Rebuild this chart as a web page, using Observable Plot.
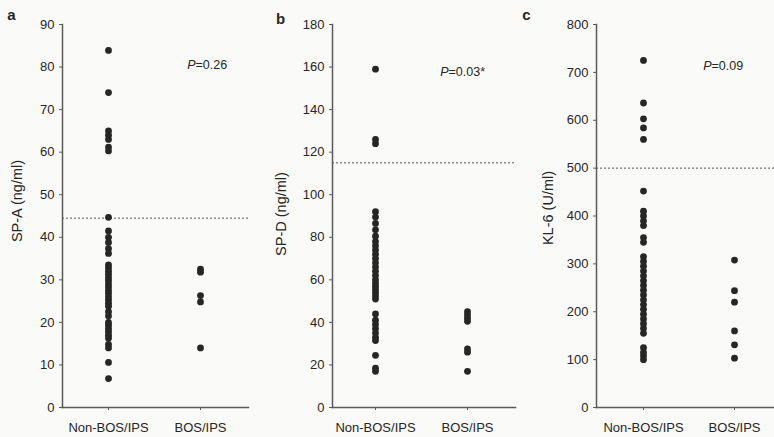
<!DOCTYPE html>
<html>
<head>
<meta charset="utf-8">
<script src="https://cdn.jsdelivr.net/npm/d3@7"></script>
<script src="https://cdn.jsdelivr.net/npm/@observablehq/plot@0.6"></script>
<style>
  html, body { margin: 0; padding: 0; background: #fafaf8; }
  #wrap { position: relative; width: 774px; height: 437px; overflow: hidden; }
  #wrap > svg { position: absolute; top: 0; }
</style>
</head>
<body>
<div id="wrap"></div>
<script>
// ---- data ----
const groups = ["Non-BOS/IPS", "BOS/IPS"];

const spaNon = [83.9, 74, 65, 64, 63, 61.2, 60.3, 44.7, 41.5, 40, 38.8, 37.3, 36.2,
  33.5, 32.8, 32, 31.3, 30.5, 29.8, 29, 28.3, 27.5, 26.8, 26, 25.3, 24.5, 23.8,
  22.5, 21.5, 20, 19.3, 18.5, 17.8, 17, 16.3, 14.8, 14, 10.6, 6.8];
const spaBos = [32.5, 31.8, 26.3, 24.8, 14];

const spdNon = [159, 126, 124, 92, 89.5, 86.5, 83.5, 80.5, 78, 76, 74, 72, 70, 68,
  66, 64, 62, 60, 58.5, 57, 55.5, 54, 52.5, 51, 44, 41, 39, 37, 35, 33, 31.5,
  24.5, 18.5, 17];
const spdBos = [45, 43.5, 42, 40.5, 27.5, 26, 17];

const kl6Non = [725, 636, 603, 584, 560, 452, 410, 400, 390, 380, 355, 345, 315,
  305, 295, 285, 275, 265, 255, 245, 235, 225, 215, 205, 195, 185, 175, 165, 155,
  125, 115, 108, 100];
const kl6Bos = [308, 244, 220, 160, 131, 103];

const cutoffs = [44.5, 115, 500];
const yLabels = ["SP-A (ng/ml)", "SP-D (ng/ml)", "KL-6 (U/ml)"];
const panelLetters = ["a", "b", "c"];
const pValues = ["0.26", "0.03*", "0.09"];
const yMax = [90, 180, 800];
const yTicks = [
  [0, 10, 20, 30, 40, 50, 60, 70, 80, 90],
  [0, 20, 40, 60, 80, 100, 120, 140, 160, 180],
  [0, 100, 200, 300, 400, 500, 600, 700, 800]
];
const seriesNon = [spaNon, spdNon, kl6Non];
const seriesBos = [spaBos, spdBos, kl6Bos];

// ---- layout (styling only) ----
const layout = [
  {left: 0,   ml: 62, mr: 10, xr: [108, 200], letter: [-51, -9], title: [-45, -15], p: [133, 40]},
  {left: 258, ml: 74, mr: 1,  xr: [117, 209], letter: [-52, -5], title: [-51, -2],  p: [116, 47]},
  {left: 516, ml: 80, mr: 0,  xr: [127, 218], letter: [-70, -9], title: [-48, -8],  p: [115, 41]}
];

const font = "'Liberation Sans', Arial, Helvetica, sans-serif";
const ink = "#262626";
const axisInk = "#5a5a5a";
const wrap = document.getElementById("wrap");

for (let i = 0; i < 3; i++) {
  const L = layout[i];
  const data = [
    ...seriesNon[i].map(v => ({g: groups[0], v})),
    ...seriesBos[i].map(v => ({g: groups[1], v}))
  ];
  const svg = Plot.plot({
    width: 258,
    height: 437,
    marginLeft: L.ml,
    marginRight: L.mr,
    marginTop: 24,
    marginBottom: 30,
    style: {fontFamily: font, fontSize: "13px", color: ink, background: "transparent", overflow: "visible"},
    x: {type: "point", domain: groups, range: L.xr, padding: 0, label: null},
    y: {domain: [0, yMax[i]], label: null},
    marks: [
      Plot.ruleY([cutoffs[i]], {stroke: "#555", strokeWidth: 1, strokeDasharray: "2,2"}),
      Plot.axisY(yTicks[i], {tickSize: 3, tickPadding: 5, stroke: axisInk, fill: ink, label: null}),
      Plot.axisX({tickSize: 3, tickPadding: 12, stroke: axisInk, fill: ink, label: null}),
      Plot.frame({anchor: "left", stroke: axisInk, strokeWidth: 1.5}),
      Plot.frame({anchor: "bottom", stroke: axisInk, strokeWidth: 1.5}),
      Plot.dot(data, {x: "g", y: "v", r: 3.4, fill: ink, stroke: "none"}),
      Plot.text([panelLetters[i]], {text: d => d, frameAnchor: "top-left", dx: L.letter[0], dy: L.letter[1],
        textAnchor: "middle", lineAnchor: "middle", fontWeight: "bold", fontSize: 15, fill: ink}),
      Plot.text([yLabels[i]], {text: d => d, frameAnchor: "left", rotate: -90, dx: L.title[0], dy: L.title[1],
        textAnchor: "middle", lineAnchor: "middle", fontSize: 14.5, fill: ink}),
      Plot.text(["P"], {text: d => d, frameAnchor: "top-left", dx: L.p[0], dy: L.p[1],
        textAnchor: "end", lineAnchor: "middle", fontStyle: "italic", fontSize: 12.5, fill: ink}),
      Plot.text([pValues[i]], {text: d => "=" + d, frameAnchor: "top-left", dx: L.p[0], dy: L.p[1],
        textAnchor: "start", lineAnchor: "middle", fontSize: 12.5, fill: ink})
    ]
  });
  svg.style.left = L.left + "px";
  wrap.appendChild(svg);
}
</script>
</body>
</html>
